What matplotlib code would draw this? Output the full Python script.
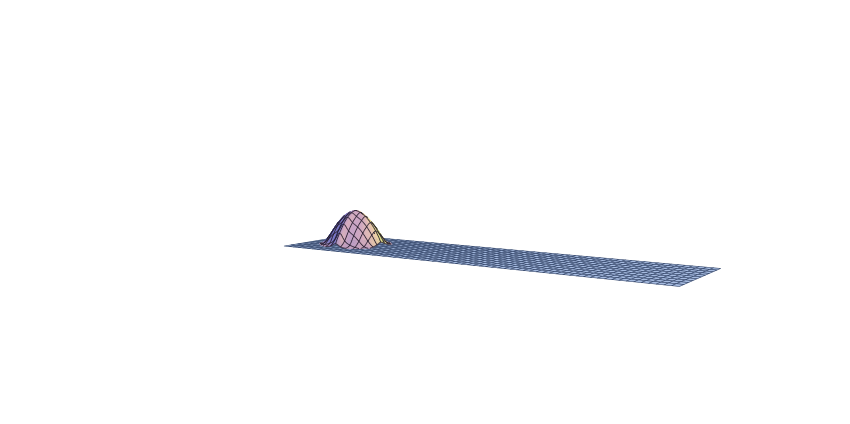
import numpy as np
import matplotlib
matplotlib.use("Agg")
import matplotlib.pyplot as plt
from mpl_toolkits.mplot3d.art3d import Poly3DCollection, Line3DCollection

# Values
PLATE_LENGTH = 100.0
PLATE_WIDTH = 25.7
PLATE_COLS = 66
PLATE_ROWS = 10
BUMP_CENTER = (12.2, 13.0)
BUMP_CELL = 1.58
BUMP_PEAK = 8.6
BUMP_TABLE = np.array([
    [0.00, 0.00, 0.00, 0.00, 0.04, 0.17, 0.04, 0.00, 0.00, 0.00, 0.00],
    [0.00, 0.00, 0.00, 0.17, 0.34, 0.47, 0.34, 0.17, 0.00, 0.00, 0.00],
    [0.00, 0.00, 0.17, 0.41, 0.57, 0.70, 0.57, 0.41, 0.17, 0.00, 0.00],
    [0.00, 0.04, 0.34, 0.57, 0.74, 0.87, 0.74, 0.57, 0.34, 0.04, 0.00],
    [0.00, 0.14, 0.44, 0.67, 0.84, 0.97, 0.84, 0.67, 0.44, 0.14, 0.00],
    [0.17, 0.47, 0.70, 0.87, 0.97, 1.00, 0.97, 0.87, 0.70, 0.47, 0.17],
    [0.00, 0.14, 0.44, 0.67, 0.84, 0.97, 0.84, 0.67, 0.44, 0.14, 0.00],
    [0.00, 0.04, 0.34, 0.57, 0.74, 0.87, 0.74, 0.57, 0.34, 0.04, 0.00],
    [0.00, 0.00, 0.17, 0.41, 0.57, 0.70, 0.57, 0.41, 0.17, 0.00, 0.00],
    [0.00, 0.00, 0.00, 0.17, 0.34, 0.47, 0.34, 0.17, 0.00, 0.00, 0.00],
    [0.00, 0.00, 0.00, 0.00, 0.04, 0.17, 0.04, 0.00, 0.00, 0.00, 0.00],
])
ELEV, AZIM = 5.8, -56.0
LOOK_AT = np.array([48.3, -9.3, 12.0])
HALF_RANGE = 26.45
EYE_DISTANCE = 200.0
FOCAL = 0.416
# Colour by how far a facet turns to the viewer's left or right
TURN = [-1.0, -0.85, -0.6, -0.3, 0.1, 0.42, 0.72, 1.0]
SHADES = ["#3f4aa8", "#5a60bd", "#9488cc", "#bd9fcb", "#d2a9c2", "#ecc8b0", "#f2e59a", "#b8d060"]


def hex2rgb(h):
    return np.array([int(h[i:i + 2], 16) / 255 for i in (1, 3, 5)])


SHADES_RGB = np.array([hex2rgb(h) for h in SHADES])
el, az = np.radians(ELEV), np.radians(AZIM)
view = np.array([np.cos(el) * np.cos(az), np.cos(el) * np.sin(az), np.sin(el)])
right = np.array([-np.sin(az), np.cos(az), 0.0])
eye = LOOK_AT + EYE_DISTANCE * view


def shade(normal):
    n = normal / np.linalg.norm(normal)
    s = float(n @ right)
    return np.array([np.interp(s, TURN, SHADES_RGB[:, c]) for c in range(3)])


fig = plt.figure(figsize=(8.5, 4.24), dpi=100, facecolor="white")
ax = fig.add_axes([-0.0067, -0.0134, 1.0, 1.0], projection="3d", computed_zorder=False)
ax.set_proj_type("persp", focal_length=FOCAL)
ax.set_box_aspect((1, 1, 1), zoom=1.0)
ax.view_init(elev=ELEV, azim=AZIM)
ax.set_xlim(LOOK_AT[0] - HALF_RANGE, LOOK_AT[0] + HALF_RANGE)
ax.set_ylim(LOOK_AT[1] - HALF_RANGE, LOOK_AT[1] + HALF_RANGE)
ax.set_zlim(LOOK_AT[2] - HALF_RANGE, LOOK_AT[2] + HALF_RANGE)
ax.set_axis_off()

# Flat plate
xe = np.linspace(0, PLATE_LENGTH, PLATE_COLS + 1)
ye = np.linspace(0, PLATE_WIDTH, PLATE_ROWS + 1)
plate = [[(xe[i], ye[j], 0), (xe[i + 1], ye[j], 0), (xe[i + 1], ye[j + 1], 0), (xe[i], ye[j + 1], 0)]
         for i in range(PLATE_COLS) for j in range(PLATE_ROWS)]
ax.add_collection3d(Poly3DCollection(plate, facecolor="#a6bbe0", edgecolor="#34466a",
                                     linewidth=0.42, zorder=1, clip_on=False))

# Bump: table subdivided, softened, then shaded; mesh lines follow the table cells
n = BUMP_TABLE.shape[0]
sub = 5
fine = np.linspace(0, n - 1, (n - 1) * sub + 1)
i0 = np.minimum(fine.astype(int), n - 2)
t = fine - i0
Zf = np.zeros((fine.size, fine.size))
for a in range(fine.size):
    for b in range(fine.size):
        r, c = i0[a], i0[b]
        u, v = t[a], t[b]
        Zf[a, b] = ((1 - u) * (1 - v) * BUMP_TABLE[r, c] + u * (1 - v) * BUMP_TABLE[r + 1, c]
                    + (1 - u) * v * BUMP_TABLE[r, c + 1] + u * v * BUMP_TABLE[r + 1, c + 1])
kernel = np.ones(sub) / sub
for axis in (0, 1):
    Zf = np.apply_along_axis(lambda m: np.convolve(m, kernel, mode="same"), axis, Zf)
Zf *= BUMP_PEAK
Xf = BUMP_CENTER[0] + (fine - (n - 1) / 2) * BUMP_CELL
Yf = BUMP_CENTER[1] + (fine - (n - 1) / 2) * BUMP_CELL
dzx, dzy = np.gradient(Zf, Xf, Yf)

polys, cols = [], []
for a in range(fine.size - 1):
    for b in range(fine.size - 1):
        zz = [Zf[a, b], Zf[a + 1, b], Zf[a + 1, b + 1], Zf[a, b + 1]]
        if max(zz) <= 0.05:
            continue
        nrm = np.array([-dzx[a:a + 2, b:b + 2].mean(), -dzy[a:a + 2, b:b + 2].mean(), 1.0])
        polys.append([(Xf[a], Yf[b], zz[0]), (Xf[a + 1], Yf[b], zz[1]),
                      (Xf[a + 1], Yf[b + 1], zz[2]), (Xf[a], Yf[b + 1], zz[3])])
        cols.append(shade(nrm))
ax.add_collection3d(Poly3DCollection(polys, facecolors=cols, edgecolor=cols, linewidth=0.2,
                                     zorder=2, clip_on=False))

# Visible mesh lines on the bump (front-facing segments only)
segs = []
for k in range(0, fine.size, sub):
    for m in range(fine.size - 1):
        pairs = (((Xf[k], Yf[m], Zf[k, m]), (Xf[k], Yf[m + 1], Zf[k, m + 1]), (k, m)),
                 ((Xf[m], Yf[k], Zf[m, k]), (Xf[m + 1], Yf[k], Zf[m + 1, k]), (m, k)))
        for p, q, (ia, ib) in pairs:
            if max(p[2], q[2]) <= 0.05:
                continue
            if np.array([-dzx[ia, ib], -dzy[ia, ib], 1.0]) @ (eye - np.array(p)) > 0:
                segs.append([p, q])
ax.add_collection3d(Line3DCollection(segs, colors="#241c2c", linewidths=0.6, zorder=3, clip_on=False))

fig.savefig("out.png", dpi=100, facecolor="white")
